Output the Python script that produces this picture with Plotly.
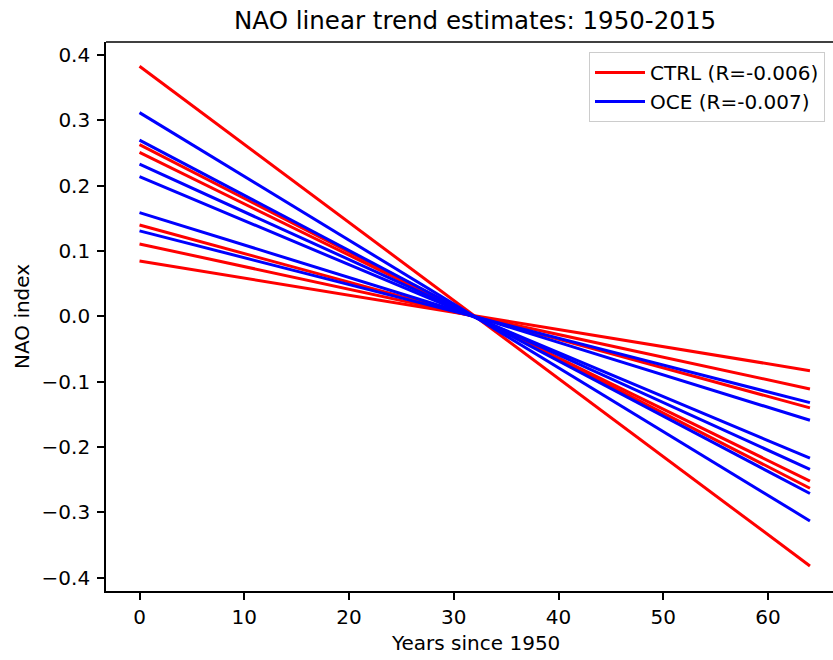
import plotly.graph_objects as go

# Trend line end-point values (years since 1950 = 0 and 64) for each ensemble member
years = [0, 64]
ctrl_start = [0.383, 0.263, 0.251, 0.140, 0.111, 0.085]
ctrl_end = [-0.382, -0.263, -0.252, -0.140, -0.111, -0.083]
oce_start = [0.312, 0.270, 0.233, 0.214, 0.159, 0.131]
oce_end = [-0.313, -0.271, -0.234, -0.217, -0.159, -0.132]
ctrl_label = "CTRL (R=-0.006)"
oce_label = "OCE (R=-0.007)"
x_ticks = [0, 10, 20, 30, 40, 50, 60]
y_ticks = [-0.4, -0.3, -0.2, -0.1, 0.0, 0.1, 0.2, 0.3, 0.4]

FONT = "DejaVu Sans"
W, H = 833, 660
L, R, T, B = 106, 0, 42, 69

fig = go.Figure()
for i, (s, e) in enumerate(zip(ctrl_start, ctrl_end)):
    fig.add_trace(go.Scatter(x=years, y=[s, e], mode="lines",
                             line=dict(color="#ff0000", width=3),
                             name=ctrl_label, legendgroup="ctrl",
                             showlegend=(i == 0)))
for i, (s, e) in enumerate(zip(oce_start, oce_end)):
    fig.add_trace(go.Scatter(x=years, y=[s, e], mode="lines",
                             line=dict(color="#0000ff", width=3),
                             name=oce_label, legendgroup="oce",
                             showlegend=(i == 0)))

pw = W - L - R
ph = H - T - B

def px_x(p):
    return (p - L) / pw

def px_y(p):
    return (H - B - p) / ph

axis_common = dict(
    showline=True, linecolor="black", linewidth=1.6,
    ticks="outside", ticklen=7, tickwidth=1.6, tickcolor="black",
    showgrid=False, zeroline=False, automargin=False,
    tickfont=dict(family=FONT, size=20, color="black"),
)

fig.update_layout(
    width=W, height=H,
    margin=dict(l=L, r=R, t=T, b=B, autoexpand=False),
    paper_bgcolor="white", plot_bgcolor="white",
    font=dict(family=FONT, size=20, color="black"),
    showlegend=True,
    legend=dict(
        x=px_x(825), xanchor="right", y=px_y(52), yanchor="top",
        bgcolor="rgba(255,255,255,0.8)", bordercolor="#cccccc", borderwidth=1,
        font=dict(family=FONT, size=20, color="black"),
        tracegroupgap=0, itemwidth=50,
    ),
    xaxis=dict(range=[-3.2, 66.2], tickvals=x_ticks, mirror=False,
               ticklabelstandoff=0, **axis_common),
    yaxis=dict(range=[-0.4203, 0.4201], tickvals=y_ticks, tickformat=".1f",
               ticklabelstandoff=3, **axis_common),
    shapes=[dict(type="line", xref="paper", yref="paper", x0=0, x1=1, y0=1, y1=1,
                 line=dict(color="black", width=1.6))],
    annotations=[
        dict(text="NAO linear trend estimates: 1950-2015", xref="paper", yref="paper",
             x=px_x(475), y=px_y(21), xanchor="center", yanchor="middle",
             showarrow=False, font=dict(family=FONT, size=24.5, color="black")),
        dict(text="Years since 1950", xref="paper", yref="paper",
             x=px_x(475), y=px_y(643), xanchor="center", yanchor="middle",
             showarrow=False, font=dict(family=FONT, size=20, color="black")),
        dict(text="NAO index", xref="paper", yref="paper", textangle=-90,
             x=px_x(22), y=px_y(317), xanchor="center", yanchor="middle",
             showarrow=False, font=dict(family=FONT, size=20, color="black")),
    ],
)

fig.write_html(
    "out.html",
    config={"displayModeBar": False},
    post_script="document.body.style.margin='0';document.body.style.overflow='hidden';",
)
